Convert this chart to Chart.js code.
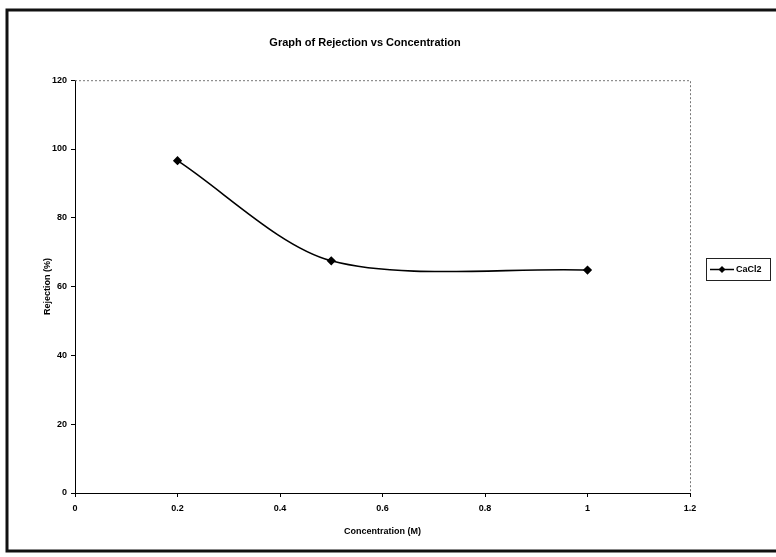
<!DOCTYPE html>
<html>
<head>
<meta charset="utf-8">
<script src="https://cdn.jsdelivr.net/npm/chart.js@4"></script>
<style>
  html, body { margin: 0; padding: 0; background: #fff; }
  #wrap { width: 776px; height: 557px; position: relative; }
</style>
</head>
<body>
<div id="wrap"><canvas id="lineChart" width="776" height="557"></canvas></div>
<script>
// Values
const concentration = [0.2, 0.5, 1];
const rejection = [96.6, 67.5, 64.8];
const seriesName = "CaCl2";
const xTicks = [0, 0.2, 0.4, 0.6, 0.8, 1, 1.2];
const yTicks = [0, 20, 40, 60, 80, 100, 120];

const FONT = "'Liberation Sans', Arial, sans-serif";

// outer frame, dashed plot border and the legend box on the right
const decorations = {
    id: "decorations",
    beforeDraw(chart) {
        const c = chart.ctx;
        c.save();
        c.fillStyle = "#fff";
        c.fillRect(0, 0, chart.width, chart.height);
        c.strokeStyle = "#111";
        c.lineWidth = 3;
        c.strokeRect(7, 10, 790, 541);
        c.restore();
    },
    afterDraw(chart) {
        const c = chart.ctx;
        const a = chart.chartArea;
        c.save();
        // dashed plot area border (top and right)
        c.strokeStyle = "#777";
        c.lineWidth = 1;
        c.setLineDash([2, 2]);
        c.beginPath();
        c.moveTo(a.left, a.top + 0.5);
        c.lineTo(a.right + 0.5, a.top + 0.5);
        c.lineTo(a.right + 0.5, a.bottom);
        c.stroke();

        // legend box
        const bx = 706, by = 258, bw = 64, bh = 22;
        c.setLineDash([]);
        c.strokeStyle = "#222";
        c.strokeRect(bx + 0.5, by + 0.5, bw, bh);
        const my = by + bh / 2 + 0.5;
        c.strokeStyle = "#000";
        c.lineWidth = 1.5;
        c.beginPath();
        c.moveTo(bx + 4, my);
        c.lineTo(bx + 28, my);
        c.stroke();
        c.fillStyle = "#000";
        c.beginPath();
        c.moveTo(bx + 16, my - 3.5);
        c.lineTo(bx + 19.5, my);
        c.lineTo(bx + 16, my + 3.5);
        c.lineTo(bx + 12.5, my);
        c.closePath();
        c.fill();
        c.font = "bold 9px " + FONT;
        c.textBaseline = "middle";
        c.textAlign = "left";
        c.fillText(chart.data.datasets[0].label, bx + 30, my);
        c.restore();
    }
};

new Chart(document.getElementById("lineChart").getContext("2d"), {
    type: "line",
    data: {
        datasets: [{
            label: seriesName,
            data: concentration.map((x, i) => ({ x: x, y: rejection[i] })),
            borderColor: "#000",
            backgroundColor: "#000",
            borderWidth: 1.6,
            tension: 0.3,
            pointStyle: "rectRot",
            pointRadius: 3.5,
            pointBackgroundColor: "#000",
            pointBorderColor: "#000",
            fill: false
        }]
    },
    options: {
        responsive: false,
        animation: false,
        layout: { padding: { left: 40, right: 86, top: 30, bottom: 20 } },
        plugins: {
            legend: { display: false },
            tooltip: { enabled: false },
            title: {
                display: true,
                text: "Graph of Rejection vs Concentration",
                color: "#000",
                font: { family: FONT, size: 11, weight: "bold" },
                padding: { top: 6, bottom: 31 }
            }
        },
        scales: {
            x: {
                type: "linear",
                min: 0,
                max: 1.2,
                afterBuildTicks(scale) { scale.ticks = xTicks.map(v => ({ value: v })); },
                afterFit(scale) { scale.height = 44; },
                border: { color: "#000", width: 1 },
                grid: { drawOnChartArea: false, drawTicks: true, tickLength: 4, color: "#000" },
                ticks: {
                    color: "#000",
                    padding: 6,
                    font: { family: FONT, size: 9, weight: "bold" },
                    callback: v => String(v)
                },
                title: {
                    display: true,
                    text: "Concentration (M)",
                    color: "#000",
                    font: { family: FONT, size: 9, weight: "bold" },
                    padding: 0
                }
            },
            y: {
                min: 0,
                max: 120,
                afterBuildTicks(scale) { scale.ticks = yTicks.map(v => ({ value: v })); },
                afterFit(scale) { scale.width = 35; },
                border: { color: "#000", width: 1 },
                grid: { drawOnChartArea: false, drawTicks: true, tickLength: 4, color: "#000" },
                ticks: {
                    color: "#000",
                    padding: 4,
                    font: { family: FONT, size: 9, weight: "bold" }
                },
                title: {
                    display: true,
                    text: "Rejection (%)",
                    color: "#000",
                    font: { family: FONT, size: 9, weight: "bold" },
                    padding: { top: 2, bottom: 0 }
                }
            }
        }
    },
    plugins: [decorations]
});
</script>
</body>
</html>
